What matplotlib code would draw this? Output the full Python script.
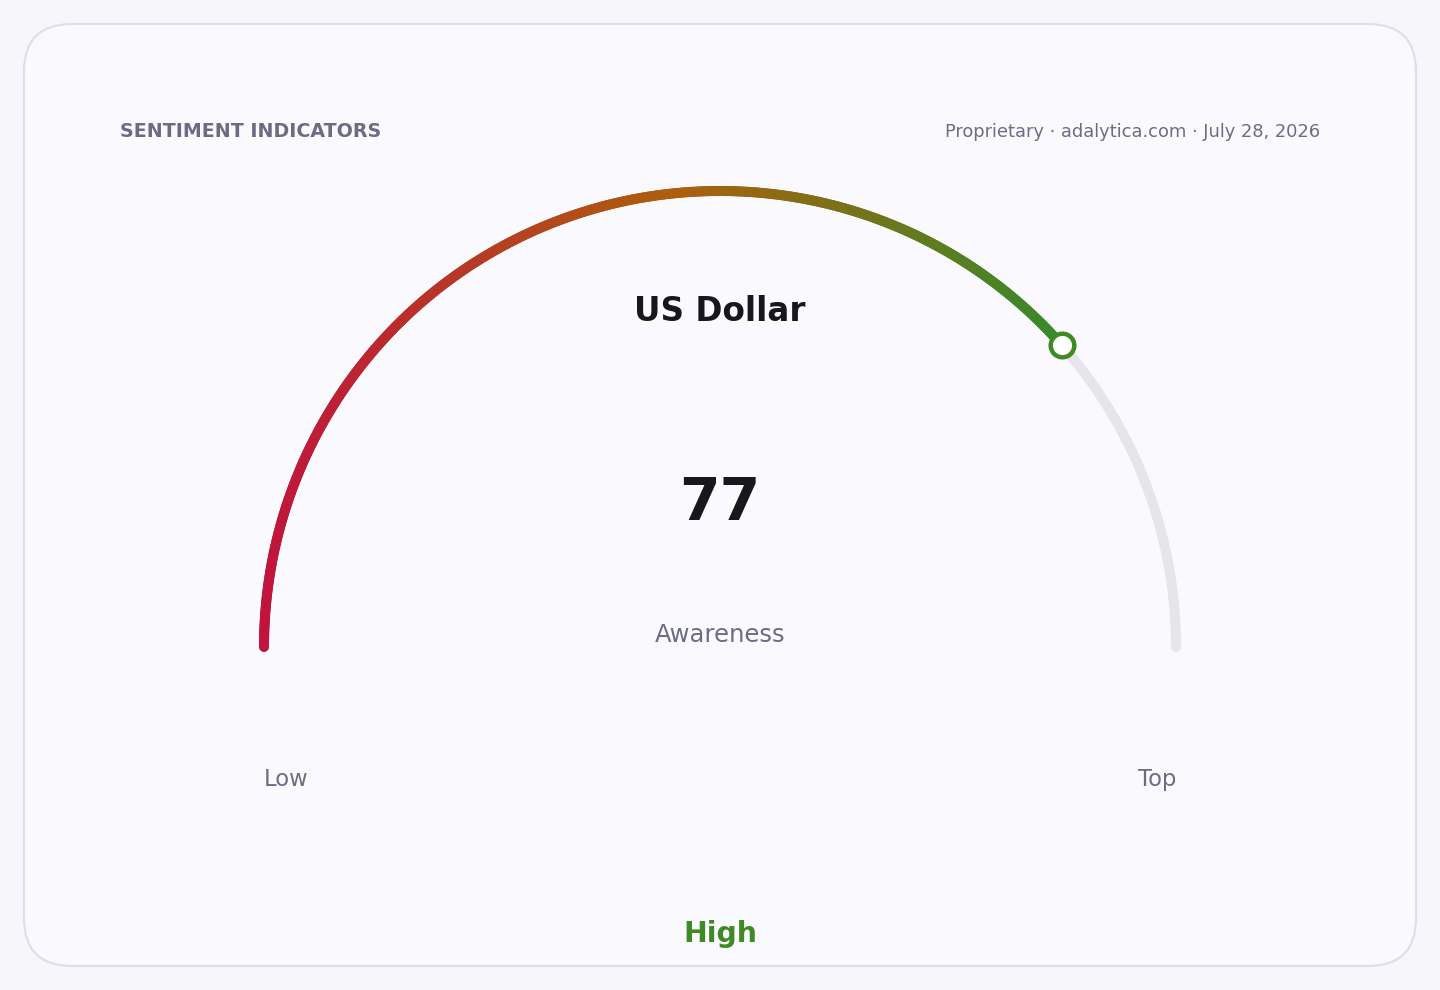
"""Sentiment gauge card: a half-circle gauge with gradient fill."""

import numpy as np
import matplotlib
matplotlib.use("Agg")
import matplotlib.pyplot as plt
from matplotlib.collections import LineCollection
from matplotlib.colors import LinearSegmentedColormap
from matplotlib.patches import FancyBboxPatch

plt.rcParams["font.family"] = ["DejaVu Sans"]

# Gauge data
gauge_min = 0
gauge_max = 100
gauge_value = 77
asset_name = "US Dollar"
metric_name = "Awareness"
level_label = "High"
end_labels = ["Low", "Top"]
header_left = "SENTIMENT INDICATORS"
header_right = "Proprietary \u00b7 adalytica.com \u00b7 July 28, 2026"

# Layout in pixels (axes are mapped 1:1 to the 1440x990 canvas)
W, H = 1440, 990
CX, CY, R = 720, 647, 456
ARC_LW = 7.2  # 10 px

TEXT_DARK = "#17171f"
TEXT_MUTED = "#6c6c86"
GREEN = "#3f8a24"

grad_cmap = LinearSegmentedColormap.from_list(
    "gauge", [(0.0, "#c0143e"), (0.52, "#ad5f0c"), (1.0, "#388a2a")])


def value_to_angle(v):
    """Map a gauge value onto the half circle (pi at the left end, 0 at the right)."""
    frac = (v - gauge_min) / (gauge_max - gauge_min)
    return np.pi * (1 - frac)


def arc_points(a0, a1, n=400):
    theta = np.linspace(a0, a1, n)
    return CX + R * np.cos(theta), CY - R * np.sin(theta)


def draw_card(ax):
    card = FancyBboxPatch((24, 24), W - 48, H - 48,
                          boxstyle="round,pad=0,rounding_size=48",
                          facecolor="#fafafe", edgecolor="#dfdfeb",
                          linewidth=1.6, zorder=0)
    ax.add_patch(card)


def draw_gauge(ax):
    # grey track over the whole range
    tx, ty = arc_points(value_to_angle(gauge_min), value_to_angle(gauge_max))
    ax.plot(tx, ty, color="#e5e5ea", lw=ARC_LW, solid_capstyle="round", zorder=2)

    # gradient part up to the value
    a_end = value_to_angle(gauge_value)
    x, y = arc_points(value_to_angle(gauge_min), a_end)
    pts = np.column_stack([x, y]).reshape(-1, 1, 2)
    segs = np.concatenate([pts[:-1], pts[1:]], axis=1)
    xm = (x[:-1] + x[1:]) / 2
    t = (xm - x[0]) / (x[-1] - x[0])
    lc = LineCollection(segs, colors=grad_cmap(t), linewidths=ARC_LW,
                        capstyle="round", zorder=3)
    ax.add_collection(lc)

    # value marker
    ax.plot(x[-1], y[-1], "o", ms=17, mfc="white", mec=GREEN, mew=3.2, zorder=4)


def draw_texts(ax):
    ax.text(120, 137, header_left, fontsize=13.7, fontweight="bold",
            color="#6b6b86", ha="left", va="baseline")
    ax.text(1320, 137, header_right, fontsize=12.9, color=TEXT_MUTED,
            ha="right", va="baseline")
    ax.text(CX, 321, asset_name, fontsize=23.5, fontweight="bold",
            color=TEXT_DARK, ha="center", va="baseline")
    ax.text(CX, 520, f"{gauge_value}", fontsize=42, fontweight="bold",
            color=TEXT_DARK, ha="center", va="baseline")
    ax.text(CX, 642, metric_name, fontsize=17.5, color=TEXT_MUTED,
            ha="center", va="baseline")
    ax.text(CX - R, 786, end_labels[0], fontsize=16.3, color=TEXT_MUTED,
            ha="left", va="baseline")
    ax.text(CX + R, 786, end_labels[1], fontsize=16.3, color=TEXT_MUTED,
            ha="right", va="baseline")
    ax.text(CX, 942, level_label, fontsize=20.4, fontweight="bold",
            color=GREEN, ha="center", va="baseline")


fig = plt.figure(figsize=(W / 100, H / 100), dpi=100)
fig.patch.set_facecolor("#f7f7fb")
ax = fig.add_axes([0, 0, 1, 1])
ax.set_xlim(0, W)
ax.set_ylim(H, 0)
ax.set_aspect("equal")
ax.axis("off")

draw_card(ax)
draw_gauge(ax)
draw_texts(ax)

fig.savefig("out.png", dpi=100, facecolor=fig.get_facecolor())
plt.close(fig)
